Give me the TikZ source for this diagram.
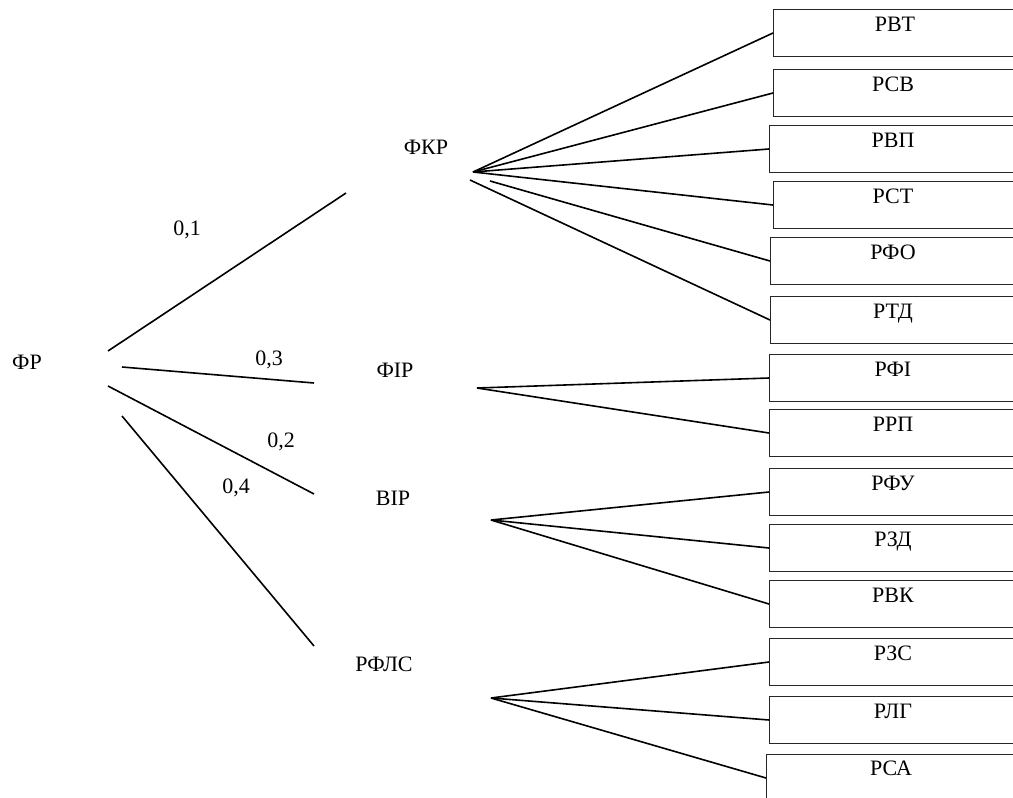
\documentclass[tikz,border=0pt]{standalone}
\usepackage{fontspec}
\setmainfont{Liberation Serif}
\begin{document}
\begin{tikzpicture}[x=1pt,y=-1pt,
  lbl/.style={font=\fontsize{22}{26}\selectfont,inner sep=0pt,anchor=base},
  boxst/.style={draw=black!85,line width=1pt,anchor=north west,minimum height=47pt,minimum width=260pt,inner sep=0pt},
  conn/.style={line width=1.6pt,black}]
\useasboundingbox (0,0) rectangle (1013,798);
\clip (0,0) rectangle (1013,798);
% left labels
\node[lbl] (fr) at (27,369) {ФР};
\node[lbl] (fkr) at (426,154) {ФКР};
\node[lbl] (fir) at (395,377) {ФІР};
\node[lbl] (vir) at (393,505) {ВІР};
\node[lbl] (rfls) at (384,671) {РФЛС};
\node[lbl] (w1) at (187,235) {0,1};
\node[lbl] (w3) at (269,365) {0,3};
\node[lbl] (w2) at (281,447) {0,2};
\node[lbl] (w4) at (236,493) {0,4};
% connector end points
\coordinate (s1) at (108,351); \coordinate (e1) at (346,193);
\coordinate (s2) at (122,367); \coordinate (e2) at (314,383);
\coordinate (s3) at (108,386); \coordinate (e3) at (314,494);
\coordinate (s4) at (122,416); \coordinate (e4) at (314,646);
\coordinate (ka) at (473,172); \coordinate (kb) at (490,181); \coordinate (kc) at (470,180);
\coordinate (ia) at (477,388);
\coordinate (va) at (491,520);
\coordinate (ra) at (491,698);
% boxes
\node[boxst] (b1) at (773,9) {};
\node[boxst] (b2) at (773,69) {};
\node[boxst] (b3) at (769,125) {};
\node[boxst] (b4) at (773,181) {};
\node[boxst] (b5) at (770,237) {};
\node[boxst] (b6) at (770,296) {};
\node[boxst] (b7) at (769,354) {};
\node[boxst] (b8) at (769,409) {};
\node[boxst] (b9) at (769,468) {};
\node[boxst] (b10) at (769,524) {};
\node[boxst] (b11) at (769,580) {};
\node[boxst] (b12) at (769,638) {};
\node[boxst] (b13) at (769,696) {};
\node[boxst] (b14) at (766,754) {};
% box labels
\node[lbl] (t1) at (895,31) {РВТ};
\node[lbl] (t2) at (893,91) {РСВ};
\node[lbl] (t3) at (893,147) {РВП};
\node[lbl] (t4) at (893,203) {РСТ};
\node[lbl] (t5) at (893,259) {РФО};
\node[lbl] (t6) at (893,318) {РТД};
\node[lbl] (t7) at (893,376) {РФІ};
\node[lbl] (t8) at (893,431) {РРП};
\node[lbl] (t9) at (893,490) {РФУ};
\node[lbl] (t10) at (893,546) {РЗД};
\node[lbl] (t11) at (893,602) {РВК};
\node[lbl] (t12) at (893,660) {РЗС};
\node[lbl] (t13) at (893,718) {РЛГ};
\node[lbl] (t14) at (891,775) {РСА};
% connectors from ФР
\draw[conn] (s1) -- (e1);
\draw[conn] (s2) -- (e2);
\draw[conn] (s3) -- (e3);
\draw[conn] (s4) -- (e4);
% ФКР fan
\draw[conn] (ka) -- (b1.west);
\draw[conn] (ka) -- (b2.west);
\draw[conn] (ka) -- (b3.west);
\draw[conn] (ka) -- (b4.west);
\draw[conn] (kb) -- (b5.west);
\draw[conn] (kc) -- (b6.west);
% ФІР fan
\draw[conn] (ia) -- (b7.west);
\draw[conn] (ia) -- (b8.west);
% ВІР fan
\draw[conn] (va) -- (b9.west);
\draw[conn] (va) -- (b10.west);
\draw[conn] (va) -- (b11.west);
% РФЛС fan
\draw[conn] (ra) -- (b12.west);
\draw[conn] (ra) -- (b13.west);
\draw[conn] (ra) -- (b14.west);
\end{tikzpicture}
\end{document}
